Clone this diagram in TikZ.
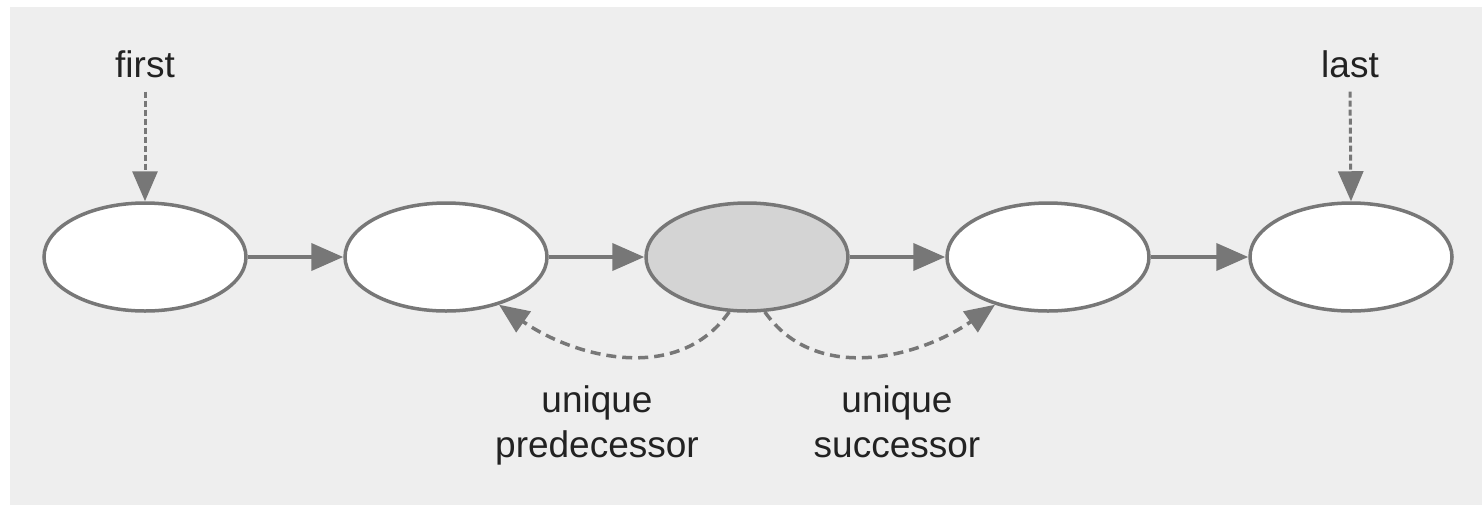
\documentclass[tikz,border=0pt]{standalone}
\usepackage{fontspec}
\setmainfont{Liberation Sans}
\usetikzlibrary{arrows.meta,shapes.geometric}
\definecolor{bgc}{HTML}{EEEEEE}
\definecolor{linec}{HTML}{777777}
\definecolor{hilite}{HTML}{D4D4D4}
\definecolor{txtc}{HTML}{222222}
\tikzset{
  x=1pt, y=-1pt,
  elem/.style={ellipse, draw=linec, line width=3.5pt, fill=white, minimum width=202pt, minimum height=108pt, inner sep=0pt},
  cur/.style={elem, fill=hilite},
  link/.style={draw=linec, line width=4pt, -{Triangle[length=32pt,width=27pt]}},
  ptr/.style={draw=linec, line width=3pt, dash pattern=on 6pt off 3pt, -{Triangle[length=30pt,width=25pt]}},
  rel/.style={draw=linec, line width=3.5pt, dash pattern=on 10pt off 6pt, -{Triangle[length=30pt,width=25pt]}},
  lbl/.style={font=\fontsize{37}{45}\selectfont, text=txtc, align=center},
}
\begin{document}
\begin{tikzpicture}
\useasboundingbox (0,0) rectangle (1482,504);
\fill[white] (0,0) rectangle (1482,504);
\fill[bgc] (10,7) rectangle (1490,512);

\node[elem] (n1) at (145,257) {};
\node[elem] (n2) at (446,257) {};
\node[cur]  (n3) at (747,257) {};
\node[elem] (n4) at (1048,257) {};
\node[elem] (n5) at (1351,257) {};

\draw[link] (n1) -- (n2);
\draw[link] (n2) -- (n3);
\draw[link] (n3) -- (n4);
\draw[link] (n4) -- (n5);

\node[lbl, anchor=base, inner sep=14pt] (first) at (145,77) {first};
\node[lbl, anchor=base, inner sep=14pt] (last) at (1350,77) {last};
\draw[ptr] (first.south) -- (n1.north);
\draw[ptr] (last.south) -- (n5.north);

\draw[rel] (n3.252) to[out=235,in=-35] (n2.318);
\draw[rel] (n3.288) to[out=-55,in=215] (n4.222);

\node[lbl] (pred) at (597,426) {unique\strut\\predecessor\strut};
\node[lbl] (succ) at (897,426) {unique\strut\\successor\strut};
\end{tikzpicture}
\end{document}
